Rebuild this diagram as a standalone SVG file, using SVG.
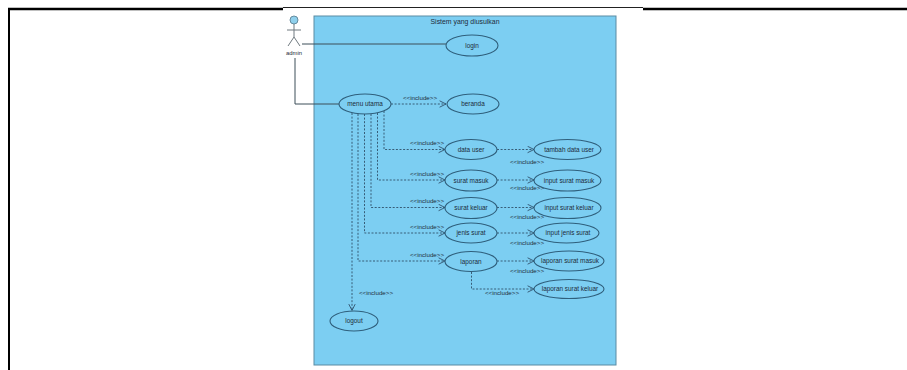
<svg xmlns="http://www.w3.org/2000/svg" width="907" height="370" viewBox="0 0 907 370">
<style>
.uc{fill:none;stroke:#2f5f7c;stroke-width:1.1}
.t{font-family:"Liberation Sans",Arial,sans-serif;font-size:6.4px;fill:#1c2c3a;text-anchor:middle}
.lbl{font-family:"Liberation Sans",Arial,sans-serif;font-size:6.2px;fill:#1c2c3a;text-anchor:middle}
.dash{fill:none;stroke:#2f506a;stroke-width:0.9;stroke-dasharray:2 1.6}
.assoc{fill:none;stroke:#3d4f58;stroke-width:1}
.actor{fill:none;stroke:#707a80;stroke-width:1}
</style>
<defs>
<marker id="open" viewBox="0 0 10 10" refX="9" refY="5" markerWidth="8" markerHeight="8" orient="auto" markerUnits="userSpaceOnUse">
<path d="M1,1 L9,5 L1,9" fill="none" stroke="#2f506a" stroke-width="1.1"/>
</marker>
</defs>
<rect x="0" y="0" width="907" height="370" fill="#ffffff"/>
<g id="page-frame">
<line x1="8" y1="9" x2="283" y2="9" stroke="#000" stroke-width="2.5"/>
<line x1="283" y1="7.5" x2="643" y2="7.5" stroke="#222" stroke-width="1"/>
<line x1="643" y1="9" x2="907" y2="9" stroke="#000" stroke-width="2.5"/>
<line x1="9" y1="8" x2="9" y2="370" stroke="#000" stroke-width="2"/>
</g>
<g id="system">
<rect x="314" y="16" width="302" height="349" fill="#7ccef2" stroke="#5a8ba3" stroke-width="1"/>
<text class="t" x="465" y="23.5" style="font-size:6.9px">Sistem yang diusulkan</text>
</g>
<g id="actor-admin">
<circle cx="294" cy="20" r="4" fill="#8fd0ec" stroke="#5f8295" stroke-width="0.9"/>
<path class="actor" d="M294,24 V37 M287,30 H301 M294,37 L288,46 M294,37 L300,46"/>
<text class="t" x="294" y="55" style="font-size:5.9px">admin</text>
</g>
<g id="connectors">
<path class="assoc" d="M302,44 H446"/>
<path class="assoc" d="M295,58 V104 H339"/>
<path class="dash" marker-end="url(#open)" d="M391,104 H446"/>
<path class="dash" marker-end="url(#open)" d="M384,111 V149.5 H445"/>
<path class="dash" marker-end="url(#open)" d="M377.5,113 V180 H445"/>
<path class="dash" marker-end="url(#open)" d="M371,114 V207.5 H445"/>
<path class="dash" marker-end="url(#open)" d="M364.5,114 V233 H445"/>
<path class="dash" marker-end="url(#open)" d="M358,114 V261 H445"/>
<path class="dash" marker-end="url(#open)" d="M352,113 V310.5"/>
<path class="dash" marker-end="url(#open)" d="M497,149.5 H534"/>
<path class="dash" marker-end="url(#open)" d="M497,180 H534"/>
<path class="dash" marker-end="url(#open)" d="M497,207.5 H534"/>
<path class="dash" marker-end="url(#open)" d="M497,233 H534"/>
<path class="dash" marker-end="url(#open)" d="M497,261 H534"/>
<path class="dash" marker-end="url(#open)" d="M471.5,272 V289 H534"/>
<text class="lbl" x="420" y="100">&lt;&lt;include&gt;&gt;</text>
<text class="lbl" x="427" y="145">&lt;&lt;include&gt;&gt;</text>
<text class="lbl" x="427" y="175.5">&lt;&lt;include&gt;&gt;</text>
<text class="lbl" x="427" y="203">&lt;&lt;include&gt;&gt;</text>
<text class="lbl" x="427" y="228.5">&lt;&lt;include&gt;&gt;</text>
<text class="lbl" x="427" y="256.5">&lt;&lt;include&gt;&gt;</text>
<text class="lbl" x="376" y="294.5">&lt;&lt;include&gt;&gt;</text>
<text class="lbl" x="527" y="164">&lt;&lt;include&gt;&gt;</text>
<text class="lbl" x="527" y="190">&lt;&lt;include&gt;&gt;</text>
<text class="lbl" x="527" y="218.5">&lt;&lt;include&gt;&gt;</text>
<text class="lbl" x="527" y="245">&lt;&lt;include&gt;&gt;</text>
<text class="lbl" x="527" y="273">&lt;&lt;include&gt;&gt;</text>
<text class="lbl" x="502" y="295">&lt;&lt;include&gt;&gt;</text>
</g>
<g id="uc-login"><ellipse class="uc" cx="472" cy="45.5" rx="26" ry="10.5"/><text class="t" x="472" y="47.8">login</text></g>
<g id="uc-menu-utama"><ellipse class="uc" cx="365" cy="104" rx="26" ry="10"/><text class="t" x="365" y="106.3">menu utama</text></g>
<g id="uc-beranda"><ellipse class="uc" cx="473" cy="104" rx="26" ry="10"/><text class="t" x="473" y="106.3">beranda</text></g>
<g id="uc-data-user"><ellipse class="uc" cx="471" cy="149.5" rx="26" ry="10"/><text class="t" x="471" y="151.8">data user</text></g>
<g id="uc-surat-masuk"><ellipse class="uc" cx="471" cy="180.5" rx="26" ry="10.5"/><text class="t" x="471" y="182.8">surat masuk</text></g>
<g id="uc-surat-keluar"><ellipse class="uc" cx="471" cy="208" rx="26" ry="10.5"/><text class="t" x="471" y="210.3">surat keluar</text></g>
<g id="uc-jenis-surat"><ellipse class="uc" cx="471" cy="233" rx="26" ry="10"/><text class="t" x="471" y="235.3">jenis surat</text></g>
<g id="uc-laporan"><ellipse class="uc" cx="471" cy="261.5" rx="26" ry="10"/><text class="t" x="471" y="263.8">laporan</text></g>
<g id="uc-tambah-data-user"><ellipse class="uc" cx="567.5" cy="149.5" rx="33.5" ry="10"/><text class="t" x="569" y="151.8">tambah data user</text></g>
<g id="uc-input-surat-masuk"><ellipse class="uc" cx="567.5" cy="180.5" rx="33.5" ry="10.5"/><text class="t" x="569" y="182.8">input surat masuk</text></g>
<g id="uc-input-surat-keluar"><ellipse class="uc" cx="567.5" cy="208" rx="33.5" ry="10.5"/><text class="t" x="569" y="210.3">input surat keluar</text></g>
<g id="uc-input-jenis-surat"><ellipse class="uc" cx="566.5" cy="233" rx="32.5" ry="10"/><text class="t" x="568" y="235.3">input jenis surat</text></g>
<g id="uc-laporan-surat-masuk"><ellipse class="uc" cx="569" cy="261" rx="35" ry="10"/><text class="t" x="570" y="263.3">laporan surat masuk</text></g>
<g id="uc-laporan-surat-keluar"><ellipse class="uc" cx="569" cy="289" rx="35" ry="9.5"/><text class="t" x="570" y="291.3">laporan surat keluar</text></g>
<g id="uc-logout"><ellipse class="uc" cx="354" cy="321" rx="24" ry="10"/><text class="t" x="354" y="323.3">logout</text></g>
</svg>
